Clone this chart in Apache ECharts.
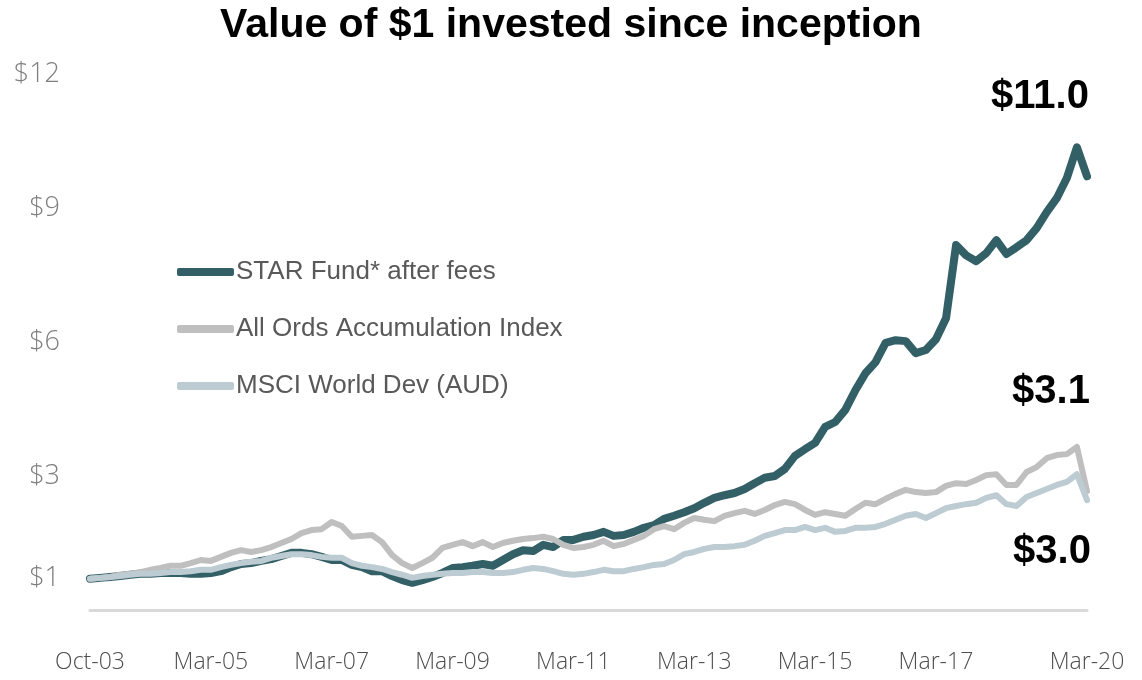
<!DOCTYPE html>
<html>
<head>
<meta charset="utf-8">
<title>Value of $1 invested since inception</title>
<script src="https://cdn.jsdelivr.net/npm/echarts@6/dist/echarts.min.js"></script>
<style>
	html, body {margin: 0; padding: 0; background: #fff;}
	#chart {width: 1142px; height: 680px;}
</style>
</head>
<body>
<div id="chart"></div>
<script>
	// x axis: one category every two months, only a few of them get a label
	var tickLabels = ['Oct-03', 'Mar-05', 'Mar-07', 'Mar-09', 'Mar-11', 'Mar-13', 'Mar-15', 'Mar-17', 'Mar-20'];
	var tickIndex = [0, 12, 24, 36, 48, 60, 72, 84, 99];
	var pointCount = 100;

	// y axis labels ($1 sits at the starting level of the lines)
	var yLabelValues = [0.7, 3, 6, 9, 12];

	var starFund = [
		0.70, 0.72, 0.74, 0.76, 0.79, 0.81, 0.81, 0.83, 0.83, 0.83,
		0.81, 0.81, 0.83, 0.87, 0.96, 1.03, 1.05, 1.10, 1.14, 1.21,
		1.28, 1.28, 1.25, 1.19, 1.12, 1.12, 1.01, 0.96, 0.87, 0.87,
		0.76, 0.67, 0.61, 0.67, 0.74, 0.83, 0.94, 0.96, 0.99, 1.03,
		0.99, 1.12, 1.25, 1.34, 1.32, 1.46, 1.41, 1.57, 1.57, 1.64,
		1.68, 1.75, 1.66, 1.68, 1.75, 1.84, 1.90, 2.04, 2.11, 2.19,
		2.28, 2.40, 2.51, 2.57, 2.62, 2.71, 2.84, 2.96, 3.00, 3.16,
		3.45, 3.60, 3.74, 4.10, 4.21, 4.48, 4.92, 5.30, 5.55, 5.98,
		6.04, 6.02, 5.75, 5.82, 6.06, 6.53, 8.17, 7.94, 7.81, 7.99,
		8.28, 7.97, 8.12, 8.28, 8.55, 8.91, 9.22, 9.67, 10.36, 9.71
	];
	var allOrds = [
		0.70, 0.72, 0.74, 0.79, 0.81, 0.85, 0.90, 0.94, 0.99, 0.99,
		1.05, 1.12, 1.10, 1.19, 1.28, 1.34, 1.30, 1.34, 1.41, 1.50,
		1.59, 1.72, 1.79, 1.81, 1.97, 1.88, 1.64, 1.66, 1.68, 1.52,
		1.23, 1.05, 0.94, 1.05, 1.17, 1.39, 1.46, 1.52, 1.43, 1.52,
		1.41, 1.50, 1.55, 1.59, 1.61, 1.64, 1.59, 1.46, 1.39, 1.41,
		1.46, 1.55, 1.43, 1.48, 1.57, 1.66, 1.81, 1.88, 1.81, 1.95,
		2.06, 2.02, 1.99, 2.11, 2.17, 2.22, 2.15, 2.24, 2.35, 2.42,
		2.37, 2.24, 2.13, 2.19, 2.15, 2.11, 2.26, 2.40, 2.37, 2.49,
		2.60, 2.69, 2.64, 2.62, 2.64, 2.78, 2.84, 2.82, 2.91, 3.02,
		3.04, 2.80, 2.80, 3.09, 3.20, 3.40, 3.47, 3.49, 3.65, 2.66
	];
	var msciWorld = [
		0.70, 0.72, 0.74, 0.76, 0.79, 0.81, 0.81, 0.83, 0.85, 0.85,
		0.87, 0.90, 0.90, 0.96, 1.01, 1.05, 1.08, 1.10, 1.17, 1.21,
		1.25, 1.25, 1.23, 1.19, 1.17, 1.17, 1.05, 0.99, 0.96, 0.92,
		0.85, 0.79, 0.72, 0.76, 0.79, 0.81, 0.83, 0.83, 0.85, 0.85,
		0.83, 0.83, 0.85, 0.90, 0.94, 0.92, 0.87, 0.81, 0.79, 0.81,
		0.85, 0.90, 0.87, 0.87, 0.92, 0.96, 1.01, 1.03, 1.12, 1.25,
		1.30, 1.37, 1.41, 1.41, 1.43, 1.46, 1.55, 1.66, 1.72, 1.79,
		1.79, 1.86, 1.79, 1.84, 1.75, 1.77, 1.84, 1.84, 1.86, 1.93,
		2.02, 2.11, 2.15, 2.06, 2.17, 2.28, 2.33, 2.37, 2.40, 2.51,
		2.57, 2.37, 2.33, 2.53, 2.62, 2.71, 2.80, 2.87, 3.04, 2.46
	];

	var seriesNames = ['STAR Fund* after fees', 'All Ords Accumulation Index', 'MSCI World Dev (AUD)'];
	var endNotes = ['$11.0', '$3.1', '$3.0'];

	var categories = [];
	for (var i = 0; i < pointCount; i++) {
		var k = tickIndex.indexOf(i);
		categories.push(k >= 0 ? tickLabels[k] : '');
	}

	function lineSeries(name, data, color, width){
		return {
			name: name,
			type: 'line',
			data: data,
			symbol: 'none',
			silent: true,
			lineStyle: {color: color, width: width, cap: 'round', join: 'round'},
			itemStyle: {color: color}
		};
	}

	function note(text, x, y){
		return {
			type: 'text',
			x: x,
			y: y,
			style: {
				text: text,
				fill: '#000',
				font: 'bold 40px "Liberation Sans", Arial, sans-serif',
				textAlign: 'center',
				textVerticalAlign: 'middle'
			}
		};
	}

	var chart = echarts.init(document.getElementById('chart'));
	chart.setOption({
		animation: false,
		backgroundColor: '#fff',
		title: {
			text: 'Value of $1 invested since inception',
			left: 'center',
			top: 0,
			textStyle: {
				fontFamily: '"Liberation Sans", Arial, sans-serif',
				fontWeight: 'bold',
				fontSize: 41,
				color: '#000'
			}
		},
		legend: {
			orient: 'vertical',
			left: 172,
			top: 254,
			icon: 'roundRect',
			itemWidth: 57,
			itemHeight: 8,
			itemGap: 31,
			textStyle: {
				fontFamily: '"Liberation Sans", Arial, sans-serif',
				fontSize: 26,
				color: '#595959',
				padding: [0, 0, 0, -3]
			},
			data: seriesNames
		},
		grid: {
			left: 90,
			right: 55,
			top: 74,
			bottom: 53,
			outerBoundsMode: 'none'
		},
		xAxis: {
			type: 'category',
			boundaryGap: false,
			data: categories,
			axisLine: {lineStyle: {color: '#d9d9d9', width: 3}},
			axisTick: {show: false},
			axisLabel: {
				interval: function(index, value){ return value !== ''; },
				margin: 24,
				fontFamily: '"Open Sans", sans-serif',
				fontWeight: 300,
				fontSize: 23,
				color: '#4d4d4d'
			},
			splitLine: {show: false}
		},
		yAxis: {
			type: 'value',
			min: -0.38,
			max: 12,
			axisLine: {show: false},
			axisTick: {show: false},
			splitLine: {show: false},
			axisLabel: {
				customValues: yLabelValues,
				margin: 30,
				fontFamily: '"Open Sans", sans-serif',
				fontWeight: 300,
				fontSize: 27,
				color: '#7f7f7f',
				formatter: function(v){ return '$' + Math.round(v); }
			}
		},
		graphic: [
			note(endNotes[0], 1040, 97),
			note(endNotes[1], 1051, 392),
			note(endNotes[2], 1052, 552)
		],
		series: [
			lineSeries(seriesNames[0], starFund, '#335f67', 8),
			lineSeries(seriesNames[1], allOrds, '#bfbfbf', 6),
			lineSeries(seriesNames[2], msciWorld, '#bdcbd2', 6)
		]
	});
</script>
</body>
</html>
